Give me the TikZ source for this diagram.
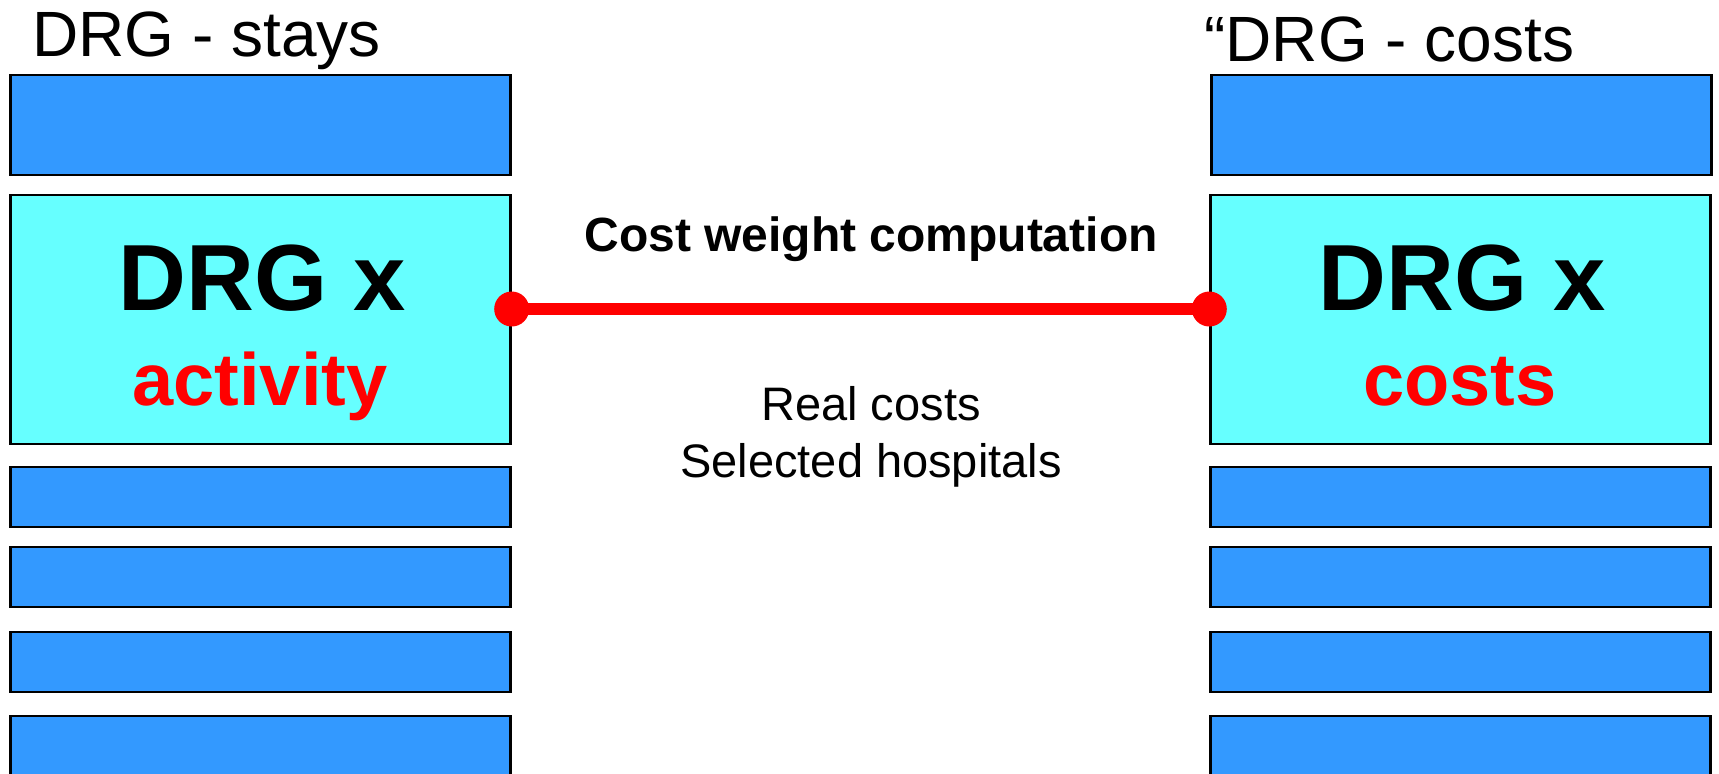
\documentclass[tikz,border=0pt]{standalone}
\usepackage{fontspec}
\setmainfont{Liberation Sans}
\usetikzlibrary{calc,positioning}
\definecolor{barblue}{HTML}{3399FF}
\definecolor{drgcyan}{HTML}{66FFFF}
\definecolor{linkred}{HTML}{FF0000}
\tikzset{
    bar/.style =    {rectangle,
                    fill=barblue,
                    draw=black,
                    line width=1.2pt,
                    inner sep=0pt,
                    minimum width=250pt,
                    minimum height=29.75pt},
    topbar/.style = {bar,
                    minimum height=49.75pt},
    drgbox/.style = {rectangle,
                    fill=drgcyan,
                    draw=black,
                    line width=1.2pt,
                    inner sep=0pt,
                    minimum width=250pt,
                    minimum height=124.25pt},
    title/.style =  {anchor=base west,
                    inner sep=0pt,
                    font=\fontsize{32}{38}\selectfont},
    big/.style =    {anchor=base,
                    inner sep=0pt,
                    font=\bfseries\fontsize{47}{56}\selectfont},
    sub/.style =    {anchor=base,
                    inner sep=0pt,
                    text=linkred,
                    font=\bfseries\fontsize{37}{44}\selectfont},
    note/.style =   {anchor=base,
                    inner sep=0pt,
                    font=\fontsize{23.5}{28}\selectfont},
    dot/.style =    {circle,
                    fill=linkred,
                    inner sep=0pt,
                    minimum size=17.5pt},
    link/.style =   {color=linkred,
                    line width=6pt}
}

\begin{document}
\begin{tikzpicture}[x=0.5pt,y=-0.5pt]
    \useasboundingbox (0,0) rectangle (1719,773);
    \clip (0,0) rectangle (1719,773);
    \node[title]        (staystitle) at (32,56)      {DRG - stays};
    \node[title]        (coststitle) at (1204,61)    {“DRG - costs};
    \node[topbar]       (stays0)     at (260.5,125)  {};
    \node[topbar]       (costs0)     at (1461.5,125) {};
    \node[drgbox]       (stayx)      at (260.5,319.5)  {};
    \node[drgbox]       (costx)      at (1460.5,319.5) {};
    \foreach \y [count=\i] in {497,577,662,746} {
        \node[bar]      (stays\i)    at (260.5,\y)   {};
        \node[bar]      (costs\i)    at (1460.5,\y)  {};
    }
    \node[big]          (staysdrg)   at (262,310)    {DRG x};
    \node[sub]          (staysred)   at (260,405)    {activity};
    \node[big]          (costsdrg)   at (1462,310)   {DRG x};
    \node[sub]          (costsred)   at (1460,405)   {costs};
    \node[dot]          (from)       at ([yshift=5.25pt]stayx.east) {};
    \node[dot]          (to)         at ([yshift=5.25pt]costx.west) {};
    \path [link]        (from.center) edge (to.center);
    \node[anchor=base,inner sep=0pt,font=\bfseries\fontsize{24}{29}\selectfont]
                        (weight)     at (871,251)    {Cost weight computation};
    \node[note]         (realcosts)  at (871,420)    {Real costs};
    \node[note]         (hospitals)  at (871,477)    {Selected hospitals};
\end{tikzpicture}
\end{document}
